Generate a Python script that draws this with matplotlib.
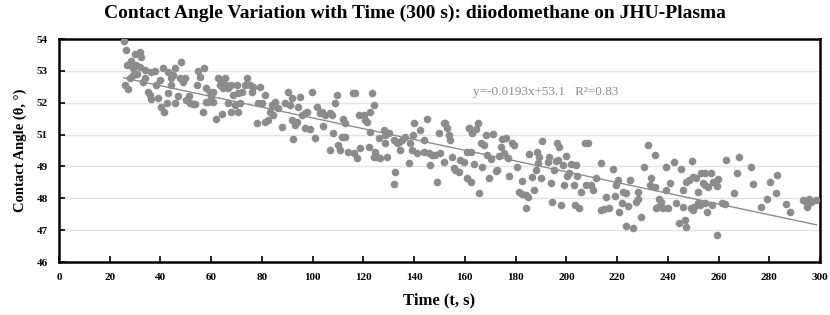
import numpy as np
import matplotlib
matplotlib.use("Agg")
import matplotlib.pyplot as plt

time_s = [
    25.5, 26.5, 29.8, 31.8, 32.5, 28.5, 26.9, 30.5, 29.2, 31.8, 33.8, 36.4, 37.7, 29.2, 30.9, 27.9,
    33.8, 33.1, 25.9, 27.2, 35.1, 35.8, 36.4, 38.4, 39.7, 41.0, 43.0, 39.0, 40.3, 41.4, 42.7,
    43.0, 44.3, 44.0, 45.0, 45.6, 45.9, 46.9, 48.2, 47.6, 48.9, 49.6, 50.2, 51.1, 51.5, 52.8, 53.7,
    54.8, 55.5, 57.2, 54.5, 56.8, 58.1, 57.8, 58.8, 60.1, 60.7, 59.4, 61.8, 64.3, 60.7,
    62.7, 64.0, 65.3, 63.4, 64.7, 66.0, 66.6, 67.9, 68.6, 66.6, 67.9, 69.3,
    70.1, 70.7, 71.4, 70.7, 72.0, 73.3, 74.0, 75.3, 76.0, 76.6, 79.3, 78.0, 81.2, 82.5,
    78.6, 79.9, 81.2, 83.9, 83.2, 84.5, 85.2, 86.5, 87.8, 89.1, 90.4, 91.1, 91.8,
    91.8, 93.1, 92.4, 93.7, 95.0, 94.4, 95.7, 97.0, 97.7, 97.0, 99.0, 99.9, 100.9,
    101.6, 102.9, 103.6, 104.9, 106.9, 104.2, 107.5, 108.8, 109.5,
    108.2, 110.1, 111.5, 112.8, 106.9, 110.8, 114.1, 112.1, 112.8, 116.0,
    116.8, 123.4, 124.1, 122.8, 118.2, 120.2, 120.8, 121.5, 116.2, 117.5, 118.8, 122.1,
    122.8, 124.7, 125.4, 126.7, 129.3, 124.1, 126.1, 128.0, 128.7, 130.0, 128.7,
    132.0, 132.6, 132.0, 133.3, 134.6, 135.3, 136.6, 134.0,
    138.5, 139.9, 139.6, 139.2, 137.9, 141.2, 142.5, 143.8, 145.1, 143.8,
    145.8, 147.1, 146.4, 148.4, 149.1, 150.4, 150.0, 151.7, 152.3, 153.0, 153.7, 154.3, 151.7,
    155.0, 155.6, 156.3, 157.6, 158.2, 159.6, 160.9, 160.9, 161.6,
    161.7, 163.0, 165.0, 164.3, 162.3, 163.6, 162.3, 165.6,
    166.3, 167.6, 168.3, 170.9, 168.9, 170.2, 166.9, 169.6,
    172.2, 173.5, 174.2, 174.8, 175.5, 176.1, 177.2, 172.8,
    177.4, 178.7, 179.4, 180.7, 182.7, 181.4, 182.7, 184.0, 184.7, 184.0,
    185.3, 186.6, 187.3, 188.0, 188.6, 189.3, 189.0, 189.9, 190.6,
    192.6, 193.2, 193.9, 194.5, 195.2, 195.9, 196.5, 197.2, 197.8, 196.9,
    198.5, 199.1, 199.8, 200.4, 201.1, 201.8, 203.1, 203.5, 203.7, 204.4, 205.0, 205.7, 207.4, 207.7,
    208.5, 213.7, 211.8, 209.8, 210.4, 218.3, 220.3, 219.6, 224.9, 222.3, 223.6, 228.2,
    215.7, 219.0, 213.7, 215.0, 217.0, 220.9, 222.0, 224.2, 227.5, 228.2, 229.5, 223.6, 226.2,
    232.1, 234.8, 230.8, 233.4, 232.8, 234.8, 236.7, 237.4, 235.4, 236.1, 238.1, 240.0,
    239.4, 242.6, 240.9, 239.4, 245.3, 245.9, 243.3, 245.9, 244.6, 246.6, 247.2,
    247.2, 248.5, 249.6, 249.9, 251.2, 251.8, 253.2, 253.8, 249.2, 250.5, 251.8, 249.9, 252.5,
    254.6, 254.6, 255.9, 257.2, 257.9, 259.2, 259.8, 254.6, 255.3, 257.6, 261.2, 262.5, 259.4,
    263.1, 267.1, 266.0, 268.1, 272.6, 273.7,
    276.9, 278.9, 280.2, 282.6, 283.1, 286.5, 288.1,
    293.1, 294.9, 295.7, 296.3, 298.6, 294.9,
]
angle_deg = [
    53.94, 53.59, 53.45, 53.52, 53.37, 53.21, 53.07, 53.07, 52.95, 53.01, 52.89, 52.83, 52.85, 52.71, 52.73, 52.61,
    52.59, 52.47, 52.35, 52.21, 52.11, 51.99, 51.85, 52.35, 52.53, 52.95, 52.83, 51.87, 51.57, 51.37, 51.69,
    52.05, 52.35, 52.59, 52.71, 52.95, 51.69, 51.97, 53.19, 52.59, 52.47, 52.59, 51.81, 51.97, 51.69, 51.66, 51.66,
    52.85, 52.65, 52.95, 52.35, 51.37, 51.75, 52.23, 51.75, 51.93, 52.11, 52.11, 51.15, 51.30, 51.75,
    52.61, 52.53, 52.59, 52.35, 52.23, 52.35, 52.23, 52.35, 51.99, 51.69, 51.39, 51.63,
    52.35, 52.05, 51.69, 51.39, 52.11, 52.35, 52.59, 52.35, 52.11, 52.29, 52.29, 50.98, 51.03, 51.09,
    51.69, 51.69, 51.99, 51.63, 51.39, 51.27, 51.75, 51.51, 50.85, 51.69, 52.11, 51.63, 51.87,
    51.09, 50.91, 50.40, 51.03, 51.93, 51.57, 51.27, 51.33, 51.39, 50.80, 50.76, 52.11, 50.44,
    51.57, 51.33, 51.39, 51.27, 51.33, 50.88, 51.27, 51.69, 51.99,
    50.64, 50.20, 50.50, 50.50, 50.02, 50.02, 49.96, 51.15, 50.98, 52.05,
    52.05, 52.05, 51.63, 51.39, 51.27, 51.27, 51.09, 51.03, 49.90, 49.72, 50.08, 50.14,
    50.67, 49.96, 49.78, 49.72, 49.78, 49.78, 50.44, 50.74, 50.56, 50.62, 50.26,
    50.38, 49.24, 48.80, 50.26, 50.02, 50.38, 50.50, 50.32,
    50.26, 50.98, 50.56, 50.02, 49.54, 49.90, 50.74, 50.38, 51.15, 49.96,
    49.90, 49.84, 49.48, 49.84, 48.88, 49.90, 50.62, 50.98, 51.00, 50.80, 50.56, 50.38, 49.60,
    49.78, 49.36, 49.30, 49.24, 49.66, 49.60, 49.00, 49.96, 50.80,
    50.80, 50.62, 50.98, 50.76, 49.96, 49.52, 48.88, 48.49,
    50.26, 50.20, 50.56, 50.59, 49.84, 49.68, 49.42, 49.00,
    49.28, 49.80, 50.14, 50.40, 49.90, 50.44, 49.72, 49.30,
    49.08, 50.28, 50.20, 49.42, 48.92, 48.52, 48.46, 48.40, 48.34, 47.93,
    49.87, 49.06, 48.58, 49.30, 49.96, 49.78, 49.56, 49.00, 50.35,
    49.60, 49.78, 48.82, 48.16, 49.30, 49.62, 50.26, 50.14, 48.04, 49.66,
    49.48, 48.76, 49.80, 49.08, 49.20, 49.52, 48.76, 48.04, 49.48, 49.08, 47.93, 48.52, 50.28, 48.76,
    50.28, 49.54, 49.00, 48.76, 48.58, 49.33, 48.94, 48.76, 48.94, 48.52, 48.49, 48.52,
    48.32, 48.37, 47.87, 47.89, 47.93, 47.80, 48.11, 48.01, 48.16, 48.28, 47.63, 47.30, 47.23,
    50.20, 49.84, 49.42, 49.00, 48.76, 48.68, 48.28, 48.16, 47.93, 47.98, 47.93, 47.93,
    49.40, 49.60, 48.85, 48.58, 49.33, 48.58, 48.11, 47.96, 47.39, 47.51, 47.27,
    48.88, 48.94, 49.62, 49.06, 49.00, 48.52, 49.18, 48.82, 47.93, 47.98, 48.13, 47.87, 48.04,
    49.18, 48.76, 48.68, 49.18, 48.88, 48.73, 48.97, 48.11, 47.80, 48.04, 48.11, 48.08, 46.97,
    49.66, 49.20, 48.49, 49.76, 49.40, 48.80,
    47.98, 48.28, 48.88, 48.49, 49.12, 48.08, 47.80,
    48.22, 47.98, 48.28, 48.16, 48.22, 48.08,
]

# linear trend as printed on the chart
trend_slope = -0.0193
trend_intercept = 53.1
trend_label = "y=-0.0193x+53.1   R\u00b2=0.83"

x_ticks = list(range(0, 301, 20))
y_tick_labels = ["54", "53", "52", "51", "49", "48", "47", "46"]

plt.rcParams["font.family"] = ["Liberation Serif", "DejaVu Serif"]

fig = plt.figure(figsize=(8.3, 3.15), dpi=100)
ax = fig.add_axes([0.071, 0.168, 0.917, 0.708])

ax.scatter(time_s, angle_deg, s=30, color="#8c8c8c", linewidths=0, zorder=3)

t_fit = np.array([min(time_s), max(time_s)])
ax.plot(t_fit, trend_slope * t_fit + trend_intercept, color="#8c8c8c", lw=1.0, zorder=4)
ax.text(192, 52.1, trend_label, color="#8c8c8c", fontsize=9.5, ha="center", va="center")

ax.set_xlim(0, 300)
ax.set_ylim(46, 54)
ax.set_xticks(x_ticks)
ax.set_xticklabels([str(v) for v in x_ticks], fontsize=8, fontweight="bold")
y_pos = np.linspace(54, 46, len(y_tick_labels))
ax.set_yticks(y_pos)
ax.set_yticklabels(y_tick_labels, fontsize=8, fontweight="bold")
ax.yaxis.grid(True, color="#e3e3e3", lw=1.0, zorder=0)
ax.set_axisbelow(True)
ax.tick_params(direction="in", length=4, width=1.2, pad=8)
for sp in ax.spines.values():
    sp.set_linewidth(1.8)
    sp.set_color("black")

ax.set_xlabel("Time (t, s)", fontsize=12, fontweight="bold", labelpad=7)
ax.set_ylabel("Contact Angle (\u03b8, \u00b0)", fontsize=10.5, fontweight="bold", labelpad=7)
fig.suptitle("Contact Angle Variation with Time (300 s): diiodomethane on JHU-Plasma",
             fontsize=14, fontweight="bold", x=0.5, y=0.985)

fig.savefig("out.png", dpi=100)
plt.close(fig)
